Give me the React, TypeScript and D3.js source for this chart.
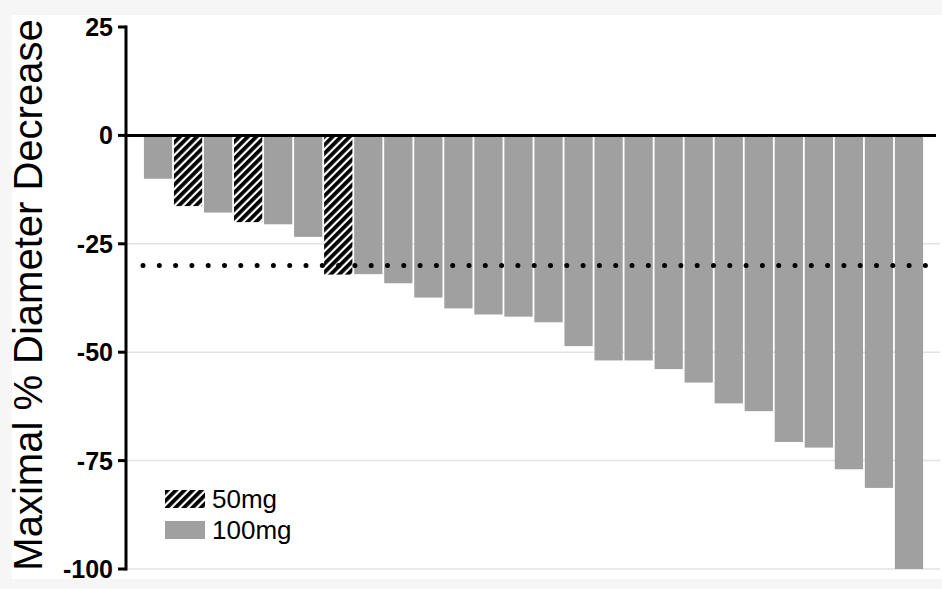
import React, { useEffect } from "react";
import * as d3 from "d3";

// patient order (waterfall), dose group and best response
const patients = d3.range(1, 27).map((i) => `P${i}`);
const doses = [
  "100mg", "50mg", "100mg", "50mg", "100mg", "100mg", "50mg", "100mg", "100mg", "100mg",
  "100mg", "100mg", "100mg", "100mg", "100mg", "100mg", "100mg", "100mg", "100mg", "100mg",
  "100mg", "100mg", "100mg", "100mg", "100mg", "100mg",
];
const values = [
  -10, -16.3, -17.8, -20, -20.5, -23.4, -32.1, -32, -34.1, -37.4,
  -39.9, -41.3, -41.8, -43.1, -48.6, -51.9, -51.9, -53.9, -57, -61.8,
  -63.6, -70.7, -72, -77, -81.3, -100,
];
const yTicks = [25, 0, -25, -50, -75, -100];
const gridTicks = [-25, -50, -75, -100];
const threshold = -30;
const legendItems = ["50mg", "100mg"];

const W = 942;
const H = 589;
const FONT = "'Liberation Sans', Arial, Helvetica, sans-serif";
const GRAY = "#a0a0a0";

export default function App() {
  useEffect(() => {
    document.body.style.margin = "0";
  }, []);

  const axisX = 126;
  const y = d3.scaleLinear().domain([-100, 25]).range([569, 27]);
  const x = d3
    .scaleBand<string>()
    .domain(patients)
    .range([143, 924])
    .paddingInner(0.06)
    .paddingOuter(0.03);

  const fillFor = (dose: string) => (dose === "50mg" ? "url(#hatch)" : GRAY);

  return (
    <svg width={W} height={H} style={{ display: "block", fontFamily: FONT }}>
      <defs>
        <pattern
          id="hatch"
          patternUnits="userSpaceOnUse"
          width={6}
          height={6}
          patternTransform="rotate(45)"
        >
          <rect width={6} height={6} fill="#fff" />
          <rect width={3.8} height={6} fill="#000" />
        </pattern>
      </defs>

      {/* frame */}
      <rect width={W} height={H} fill="#f6f6f6" />
      <rect x={12} y={15} width={W - 12} height={564} fill="#fff" />

      {/* grid lines */}
      {gridTicks.map((t) => (
        <line
          key={t}
          x1={axisX}
          x2={940}
          y1={y(t)}
          y2={y(t)}
          stroke="#e2e2e2"
          strokeWidth={1.5}
        />
      ))}

      {/* bars */}
      {patients.map((p, i) => (
        <rect
          key={p}
          x={x(p)}
          y={y(0)}
          width={x.bandwidth()}
          height={y(values[i]) - y(0)}
          fill={fillFor(doses[i])}
        />
      ))}

      {/* zero line */}
      <line x1={axisX} x2={936} y1={y(0)} y2={y(0)} stroke="#000" strokeWidth={3} />

      {/* -30% threshold */}
      <line
        x1={143}
        x2={940}
        y1={y(threshold)}
        y2={y(threshold)}
        stroke="#000"
        strokeWidth={5}
        strokeLinecap="round"
        strokeDasharray="0 16.3"
      />

      {/* y axis */}
      <line x1={axisX} x2={axisX} y1={y(25) - 1.5} y2={y(-100) + 1.5} stroke="#000" strokeWidth={3} />
      {yTicks.map((t) => (
        <g key={t} transform={`translate(0,${y(t)})`}>
          <line x1={118} x2={axisX} stroke="#000" strokeWidth={3} />
          <text
            x={113}
            dy="0.36em"
            textAnchor="end"
            fontSize={25}
            fontWeight="bold"
            fill="#000"
          >
            {t}
          </text>
        </g>
      ))}
      <text
        transform={`translate(42,295) rotate(-90)`}
        textAnchor="middle"
        fontSize={40}
        fill="#000"
      >
        Maximal % Diameter Decrease
      </text>

      {/* legend */}
      {legendItems.map((d, i) => (
        <g key={d} transform={`translate(165,${490 + i * 31})`}>
          <rect width={40} height={18} fill={fillFor(d)} />
          <text x={47} y={9} dy="0.36em" fontSize={26} fill="#000">
            {d}
          </text>
        </g>
      ))}
    </svg>
  );
}
